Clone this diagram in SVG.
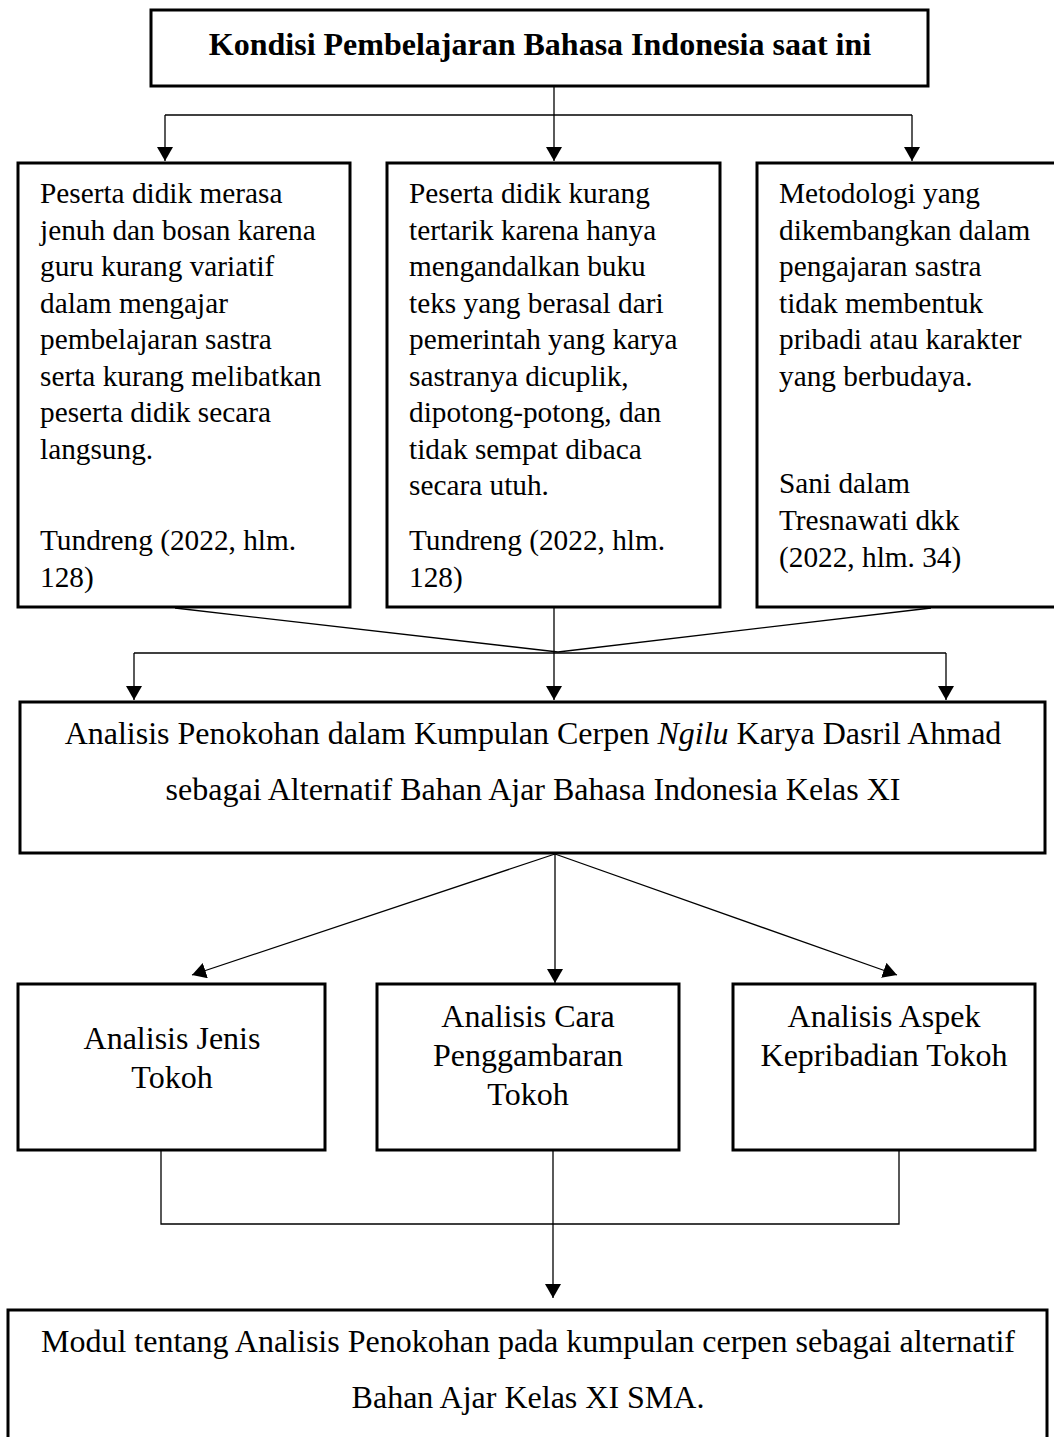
<svg xmlns="http://www.w3.org/2000/svg" width="1054" height="1437" viewBox="0 0 1054 1437">
<style>
.box{fill:#fff;stroke:#000;stroke-width:3}
.ln{fill:none;stroke:#000;stroke-width:1.3}
.t{font-family:"Liberation Serif","Times New Roman",serif;fill:#000}
.s{font-size:29.3px}
.m{font-size:32px}
.c{text-anchor:middle}
</style>
<defs>
<marker id="ah" viewBox="0 0 14 16" refX="14" refY="8" markerWidth="14" markerHeight="16" markerUnits="userSpaceOnUse" orient="auto">
<path d="M0,0 L14,8 L0,16 Z" fill="#000"/>
</marker>
</defs>
<rect width="1054" height="1437" fill="#fff"/>
<g id="connectors">
<polyline class="ln" points="554,86 554,115"/>
<polyline class="ln" points="165,115 912,115"/>
<line class="ln" x1="165" y1="115" x2="165" y2="161" marker-end="url(#ah)"/>
<line class="ln" x1="554" y1="115" x2="554" y2="161" marker-end="url(#ah)"/>
<line class="ln" x1="912" y1="115" x2="912" y2="161" marker-end="url(#ah)"/>
<line class="ln" x1="175" y1="608" x2="558" y2="652"/>
<line class="ln" x1="554" y1="608" x2="554" y2="653"/>
<line class="ln" x1="931" y1="608" x2="558" y2="652"/>
<line class="ln" x1="134" y1="653" x2="946" y2="653"/>
<line class="ln" x1="134" y1="653" x2="134" y2="700" marker-end="url(#ah)"/>
<line class="ln" x1="554" y1="653" x2="554" y2="700" marker-end="url(#ah)"/>
<line class="ln" x1="946" y1="653" x2="946" y2="700" marker-end="url(#ah)"/>
<line class="ln" x1="555" y1="854" x2="192" y2="975" marker-end="url(#ah)"/>
<line class="ln" x1="555" y1="854" x2="555" y2="983" marker-end="url(#ah)"/>
<line class="ln" x1="555" y1="854" x2="897" y2="975" marker-end="url(#ah)"/>
<polyline class="ln" points="161,1151 161,1224 899,1224 899,1151"/>
<line class="ln" x1="553" y1="1151" x2="553" y2="1298" marker-end="url(#ah)"/>
</g>
<g id="n-kondisi">
<rect class="box" x="151" y="10" width="777" height="76"/>
<text class="t m c" x="540" y="55" font-weight="bold">Kondisi Pembelajaran Bahasa Indonesia saat ini</text>
</g>
<g id="n-jenuh">
<rect class="box" x="18" y="163" width="332" height="444"/>
<text class="t s" x="40" y="203">Peserta didik merasa</text>
<text class="t s" x="40" y="239.5">jenuh dan bosan karena</text>
<text class="t s" x="40" y="276">guru kurang variatif</text>
<text class="t s" x="40" y="312.5">dalam mengajar</text>
<text class="t s" x="40" y="349">pembelajaran sastra</text>
<text class="t s" x="40" y="385.5">serta kurang melibatkan</text>
<text class="t s" x="40" y="422">peserta didik secara</text>
<text class="t s" x="40" y="458.5">langsung.</text>
<text class="t s" x="40" y="550">Tundreng (2022, hlm.</text>
<text class="t s" x="40" y="587">128)</text>
</g>
<g id="n-tertarik">
<rect class="box" x="387" y="163" width="333" height="444"/>
<text class="t s" x="409" y="203">Peserta didik kurang</text>
<text class="t s" x="409" y="239.5">tertarik karena hanya</text>
<text class="t s" x="409" y="276">mengandalkan buku</text>
<text class="t s" x="409" y="312.5">teks yang berasal dari</text>
<text class="t s" x="409" y="349">pemerintah yang karya</text>
<text class="t s" x="409" y="385.5">sastranya dicuplik,</text>
<text class="t s" x="409" y="422">dipotong-potong, dan</text>
<text class="t s" x="409" y="458.5">tidak sempat dibaca</text>
<text class="t s" x="409" y="495">secara utuh.</text>
<text class="t s" x="409" y="550">Tundreng (2022, hlm.</text>
<text class="t s" x="409" y="587">128)</text>
</g>
<g id="n-metodologi">
<rect class="box" x="757" y="163" width="310" height="444"/>
<text class="t s" x="779" y="203">Metodologi yang</text>
<text class="t s" x="779" y="239.5">dikembangkan dalam</text>
<text class="t s" x="779" y="276">pengajaran sastra</text>
<text class="t s" x="779" y="312.5">tidak membentuk</text>
<text class="t s" x="779" y="349">pribadi atau karakter</text>
<text class="t s" x="779" y="385.5">yang berbudaya.</text>
<text class="t s" x="779" y="493">Sani dalam</text>
<text class="t s" x="779" y="530">Tresnawati dkk</text>
<text class="t s" x="779" y="567">(2022, hlm. 34)</text>
</g>
<g id="n-analisis">
<rect class="box" x="20" y="702" width="1025" height="151"/>
<text class="t m c" x="533" y="744">Analisis Penokohan dalam Kumpulan Cerpen <tspan font-style="italic">Ngilu</tspan> Karya Dasril Ahmad</text>
<text class="t m c" x="533" y="800">sebagai Alternatif Bahan Ajar Bahasa Indonesia Kelas XI</text>
</g>
<g id="n-jenis">
<rect class="box" x="18" y="984" width="307" height="166"/>
<text class="t m c" x="172" y="1049">Analisis Jenis</text>
<text class="t m c" x="172" y="1088">Tokoh</text>
</g>
<g id="n-cara">
<rect class="box" x="377" y="984" width="302" height="166"/>
<text class="t m c" x="528" y="1027">Analisis Cara</text>
<text class="t m c" x="528" y="1066">Penggambaran</text>
<text class="t m c" x="528" y="1105">Tokoh</text>
</g>
<g id="n-aspek">
<rect class="box" x="733" y="984" width="302" height="166"/>
<text class="t m c" x="884" y="1027">Analisis Aspek</text>
<text class="t m c" x="884" y="1066">Kepribadian Tokoh</text>
</g>
<g id="n-modul">
<rect class="box" x="8" y="1310" width="1039" height="140"/>
<text class="t m c" x="528" y="1352">Modul tentang Analisis Penokohan pada kumpulan cerpen sebagai alternatif</text>
<text class="t m c" x="528" y="1408">Bahan Ajar Kelas XI SMA.</text>
</g>
</svg>
